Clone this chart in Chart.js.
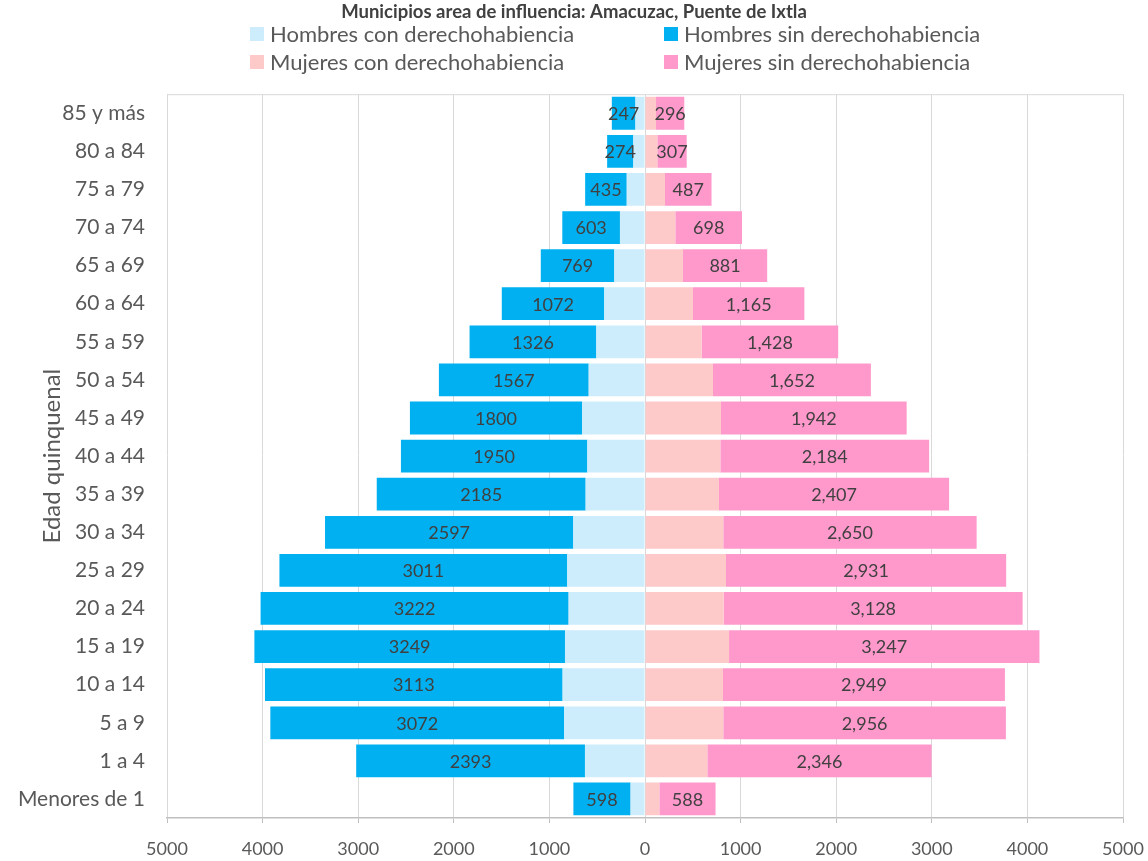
<!DOCTYPE html>
<html>
<head>
<meta charset="utf-8">
<script src="https://cdn.jsdelivr.net/npm/chart.js@4.4.1/dist/chart.umd.min.js"></script>
<style>
  html, body { margin: 0; padding: 0; background: #fff; }
  #wrap { width: 1148px; height: 861px; position: relative; }
</style>
</head>
<body>
<div id="wrap"><canvas id="myChart" width="1148" height="861"></canvas></div>
<script>
var edades = ["85 y más", "80 a 84", "75 a 79", "70 a 74", "65 a 69", "60 a 64",
  "55 a 59", "50 a 54", "45 a 49", "40 a 44", "35 a 39", "30 a 34", "25 a 29",
  "20 a 24", "15 a 19", "10 a 14", "5 a 9", "1 a 4", "Menores de 1"];
var hombres_con = [100, 122, 191, 262, 321, 426, 509, 589, 659, 603, 621, 750, 813, 799, 837, 862, 847, 628, 151];
var hombres_sin = [247, 274, 435, 603, 769, 1072, 1326, 1567, 1800, 1950, 2185, 2597, 3011, 3222, 3249, 3113, 3072, 2393, 598];
var mujeres_con = [115, 129, 209, 317, 397, 502, 593, 711, 795, 788, 774, 819, 847, 822, 879, 816, 819, 652, 150];
var mujeres_sin = [296, 307, 487, 698, 881, 1165, 1428, 1652, 1942, 2184, 2407, 2650, 2931, 3128, 3247, 2949, 2956, 2346, 588];

var titulo = "Municipios area de influencia: Amacuzac, Puente de Ixtla";
var titulo_eje = "Edad quinquenal";

Chart.defaults.font.family = "Lato, 'Open Sans', sans-serif";
Chart.defaults.color = "#595959";

function neg(arr) {
  return arr.map(function (v) { return -v; });
}

// etiquetas de los segmentos "sin derechohabiencia"
var etiquetas = {
  id: "etiquetas",
  afterDatasetsDraw: function (chart) {
    var ctx = chart.ctx;
    ctx.save();
    ctx.font = "18px Lato, sans-serif";
    ctx.fillStyle = "#404040";
    ctx.textAlign = "center";
    ctx.textBaseline = "middle";
    chart.data.datasets.forEach(function (ds, i) {
      if (!ds.etiqueta) return;
      var meta = chart.getDatasetMeta(i);
      meta.data.forEach(function (bar, j) {
        var v = Math.abs(ds.data[j]);
        var txt = ds.etiqueta === "coma" ? v.toLocaleString("en-US") : String(v);
        ctx.fillText(txt, (bar.x + bar.base) / 2, bar.y + 1);
      });
    });
    ctx.restore();
  }
};

// leyenda en dos columnas
var leyenda = {
  id: "leyenda",
  afterDraw: function (chart) {
    var ctx = chart.ctx;
    var cols = [250, 664];
    var filas = [34, 62];
    ctx.save();
    ctx.font = "22px Lato, sans-serif";
    ctx.textBaseline = "middle";
    ctx.textAlign = "left";
    chart.data.datasets.forEach(function (ds, i) {
      var x = cols[i % 2];
      var y = filas[Math.floor(i / 2)];
      ctx.fillStyle = ds.backgroundColor;
      ctx.fillRect(x, y - 7, 14, 14);
      ctx.fillStyle = "#595959";
      ctx.fillText(ds.label, x + 20, y + 1);
    });
    ctx.restore();
  }
};

// marco del area de trazado
var marco = {
  id: "marco",
  beforeDatasetsDraw: function (chart) {
    var a = chart.chartArea;
    var ctx = chart.ctx;
    ctx.save();
    ctx.strokeStyle = "#d9d9d9";
    ctx.lineWidth = 1;
    ctx.beginPath();
    ctx.moveTo(a.left, a.top + 0.5);
    ctx.lineTo(a.right, a.top + 0.5);
    ctx.stroke();
    ctx.restore();
  }
};

new Chart("myChart", {
  type: "bar",
  data: {
    labels: edades,
    datasets: [
      {
        label: "Hombres con derechohabiencia",
        data: neg(hombres_con),
        backgroundColor: "#cdedfc"
      },
      {
        label: "Hombres sin derechohabiencia",
        data: neg(hombres_sin),
        backgroundColor: "#00b0f0",
        etiqueta: "simple"
      },
      {
        label: "Mujeres con derechohabiencia",
        data: mujeres_con,
        backgroundColor: "#fdc9c9"
      },
      {
        label: "Mujeres sin derechohabiencia",
        data: mujeres_sin,
        backgroundColor: "#ff99cc",
        etiqueta: "coma"
      }
    ]
  },
  options: {
    indexAxis: "y",
    responsive: false,
    maintainAspectRatio: false,
    animation: false,
    categoryPercentage: 1,
    barPercentage: 0.86,
    layout: { padding: { left: 0, right: 0, top: 0, bottom: 2 } },
    scales: {
      x: {
        stacked: true,
        min: -5000,
        max: 5000,
        ticks: {
          stepSize: 1000,
          padding: 15,
          maxRotation: 0,
          color: "#595959",
          font: { size: 18 },
          callback: function (v) { return Math.abs(v); }
        },
        grid: {
          color: "#d9d9d9",
          tickColor: "#bfbfbf",
          tickLength: 5
        },
        border: { color: "#bfbfbf", width: 1.5 },
        afterFit: function (scale) {
          scale.height = 41;
          scale.paddingRight = 25;
          scale.paddingLeft = 0;
        }
      },
      y: {
        stacked: true,
        ticks: {
          padding: 22,
          color: "#595959",
          font: { size: 21 }
        },
        grid: { display: false, drawTicks: false },
        border: { display: false },
        title: {
          display: true,
          text: titulo_eje,
          color: "#595959",
          font: { size: 24 },
          padding: { top: 38, bottom: 0 }
        },
        afterFit: function (scale) { scale.width = 167; }
      }
    },
    plugins: {
      legend: { display: false },
      tooltip: { enabled: false },
      title: {
        display: true,
        text: titulo,
        color: "#404040",
        font: { size: 18.5, weight: "bold" },
        padding: { top: 1, bottom: 71 }
      }
    }
  },
  plugins: [marco, etiquetas, leyenda]
});
</script>
</body>
</html>
